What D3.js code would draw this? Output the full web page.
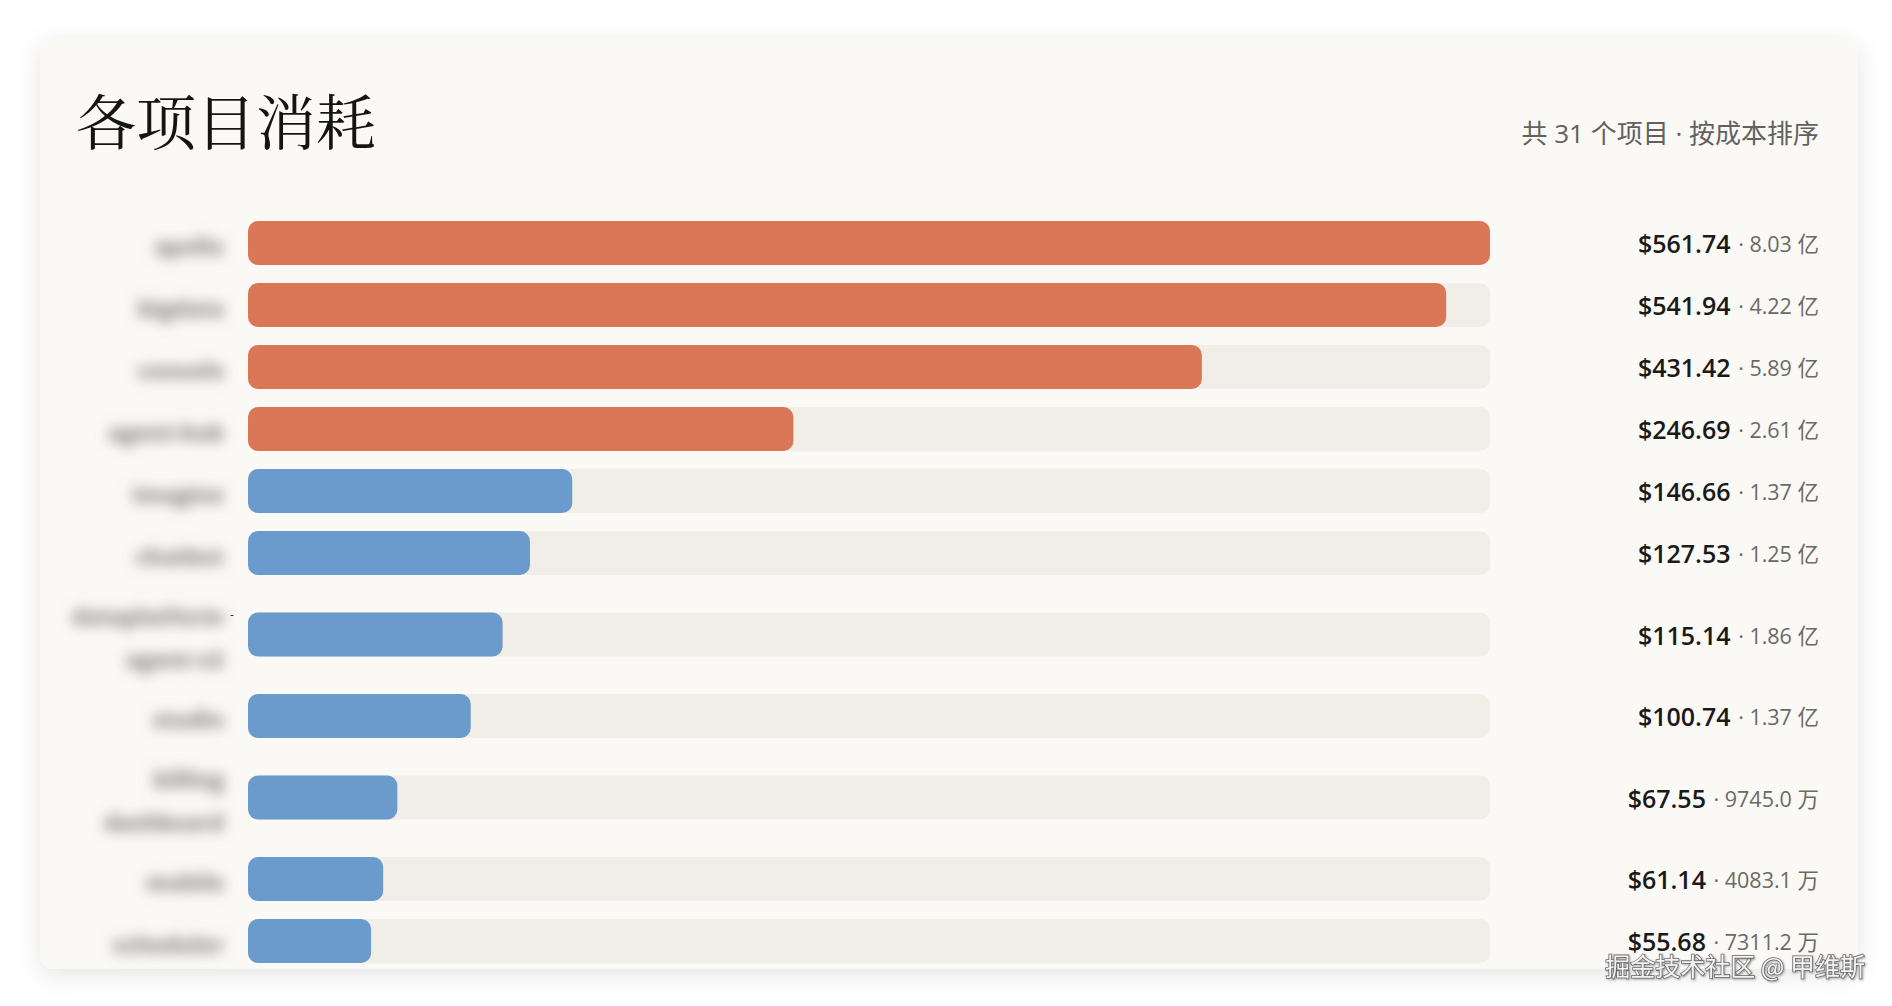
<!DOCTYPE html>
<html><head><meta charset="utf-8">
<script src="https://cdn.jsdelivr.net/npm/d3@7"></script>
<style>html,body{margin:0;background:#fff;overflow:hidden}svg{display:block}</style>
</head><body><svg id="c" width="1892" height="1006"></svg>
<script>
// ---- data ----
const title = "各项目消耗";
const subtitle = "共 31 个项目 · 按成本排序";
const projects = [["apollo"],["bigdata"],["console"],["agent-hub"],["imagine"],["chatbot"],["dataplatform","agent-v2"],["studio"],["billing","dashboard"],["mobile"],["scheduler"]];
const costs = [561.74,541.94,431.42,246.69,146.66,127.53,115.14,100.74,67.55,61.14,55.68];
const tokens = [8.03e8,4.22e8,5.89e8,2.61e8,1.37e8,1.25e8,1.86e8,1.37e8,9745.0e4,4083.1e4,7311.2e4];
const watermark = "掘金技术社区 @ 甲维斯";

// ---- layout ----
const W = 1892, H = 1006;
const card = {x: 40, y: 38, w: 1818, h: 931, r: 14};
const trackX0 = 248, trackX1 = 1490, barH = 44, extraLine = 39, rowGap = 18, rowTop = 221;
const labelX = 224, valueX = 1819;
const sans = "'Open Sans','Noto Sans','Noto Sans CJK SC',sans-serif";

const rows = projects.map((lines, i) => ({lines, cost: costs[i], tok: tokens[i], h: barH + (lines.length - 1) * extraLine}));
let acc = rowTop;
rows.forEach(r => { r.cy = acc + r.h / 2; acc += r.h + rowGap; });

const x = d3.scaleLinear().domain([0, d3.max(costs)]).range([trackX0, trackX1]);
const color = d3.scaleThreshold().domain([200]).range(["#6A9BCC", "#D97757"]);
const fmtTok = v => v >= 1e8 ? (v / 1e8).toFixed(2) + " 亿" : (v / 1e4).toFixed(1) + " 万";

const svg = d3.select("#c");
const defs = svg.append("defs");
const sh = defs.append("filter").attr("id", "sh").attr("x", "-10%").attr("y", "-10%").attr("width", "120%").attr("height", "125%");
sh.append("feDropShadow").attr("dx", 0).attr("dy", 6).attr("stdDeviation", 12).attr("flood-color", "#000").attr("flood-opacity", 0.10);
const bl = defs.append("filter").attr("id", "bl").attr("x", "-50%").attr("y", "-100%").attr("width", "200%").attr("height", "300%");
bl.append("feGaussianBlur").attr("stdDeviation", 7);
defs.append("clipPath").attr("id", "cc").append("rect")
  .attr("x", card.x).attr("y", card.y).attr("width", card.w).attr("height", card.h).attr("rx", card.r);

svg.append("rect").attr("width", W).attr("height", H).attr("fill", "#fff");
svg.append("rect").attr("x", card.x).attr("y", card.y).attr("width", card.w).attr("height", card.h)
  .attr("rx", card.r).attr("fill", "#FAF9F5").attr("filter", "url(#sh)");

const g = svg.append("g").attr("clip-path", "url(#cc)");

g.append("text").attr("x", 76).attr("y", 119).attr("dominant-baseline", "central")
  .attr("font-family", "'Noto Serif CJK SC','Source Han Serif SC',serif")
  .attr("font-size", 60).attr("fill", "#141413").text(title);

g.append("text").attr("x", valueX).attr("y", 133).attr("dominant-baseline", "central").attr("text-anchor", "end")
  .attr("font-family", sans).attr("font-size", 26).attr("fill", "#62615d").text(subtitle);

const row = g.selectAll("g.row").data(rows).join("g").attr("class", "row");

row.append("rect").attr("x", trackX0).attr("y", d => d.cy - barH / 2)
  .attr("width", trackX1 - trackX0).attr("height", barH).attr("rx", 10).attr("fill", "#F0EEE6");
row.append("rect").attr("x", trackX0).attr("y", d => d.cy - barH / 2)
  .attr("width", d => x(d.cost) - trackX0).attr("height", barH).attr("rx", 10).attr("fill", d => color(d.cost));

const lab = row.append("text").attr("text-anchor", "end").attr("font-family", sans).attr("font-size", 22)
  .attr("font-weight", 800).attr("fill", "#8c8b86").attr("filter", "url(#bl)");
lab.selectAll("tspan").data(d => d.lines.map((t, j) => ({t, y: d.cy + 3 + (j - (d.lines.length - 1) / 2) * 43})))
  .join("tspan").attr("x", labelX).attr("y", d => d.y).attr("dominant-baseline", "central").text(d => d.t);

// small hyphen artifact after the wrapped label
row.filter(d => d.lines.length > 1 && d.lines[0].length > 10).append("text")
  .attr("x", 230).attr("y", d => d.cy - 20).attr("dominant-baseline", "central")
  .attr("font-family", sans).attr("font-size", 12).attr("fill", "#333").text("-");

const val = row.append("text").attr("x", valueX).attr("y", d => d.cy).attr("text-anchor", "end")
  .attr("dominant-baseline", "central").attr("font-family", sans);
val.append("tspan").attr("font-size", 25).attr("font-weight", 600).attr("fill", "#1a1a19")
  .text(d => "$" + d.cost.toFixed(2));
val.append("tspan").attr("font-size", 21.5).attr("fill", "#6b6a66").attr("dx", 2)
  .text(d => " · " + fmtTok(d.tok));

svg.append("text").attr("x", 1865).attr("y", 965).attr("text-anchor", "end").attr("dominant-baseline", "central")
  .attr("font-family", "'Noto Sans CJK SC',sans-serif").attr("font-size", 25).attr("fill", "#f4f4f4")
  .attr("stroke", "#6a6a6a").attr("stroke-width", 1.6).attr("paint-order", "stroke")
  .style("filter", "drop-shadow(1px 1px 1px rgba(0,0,0,0.35))").text(watermark);
</script></body></html>
